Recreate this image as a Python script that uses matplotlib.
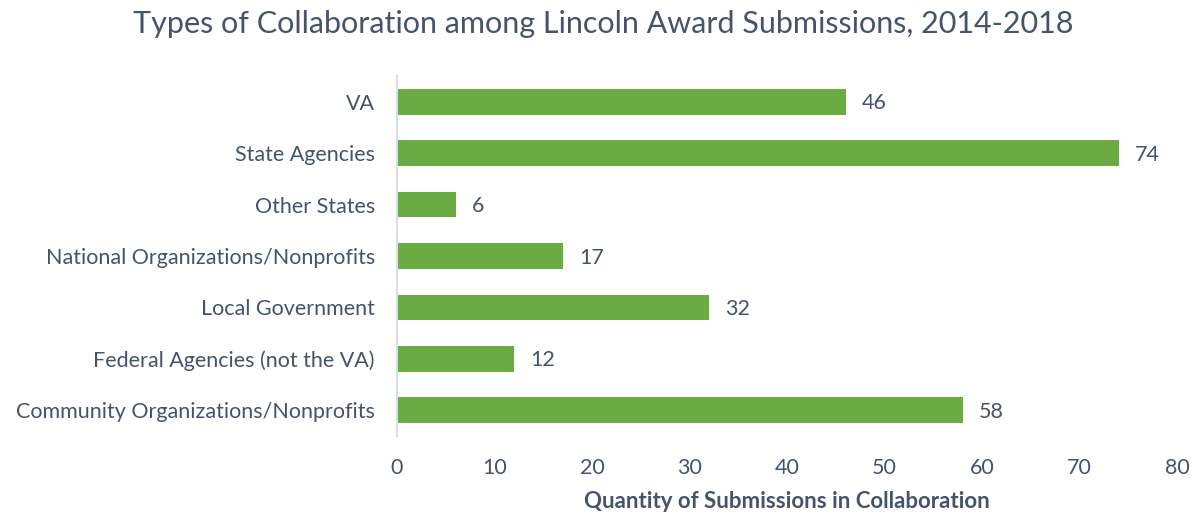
import matplotlib
matplotlib.use("Agg")
import matplotlib.pyplot as plt

categories = [
    "VA",
    "State Agencies",
    "Other States",
    "National Organizations/Nonprofits",
    "Local Government",
    "Federal Agencies (not the VA)",
    "Community Organizations/Nonprofits",
]
counts = [46, 74, 6, 17, 32, 12, 58]
xticks = [0, 10, 20, 30, 40, 50, 60, 70, 80]

text_color = "#44546a"
bar_color = "#6aab43"

plt.rcParams["font.family"] = ["Lato", "DejaVu Sans"]

fig = plt.figure(figsize=(11.94, 5.15), dpi=100)
ax = fig.add_axes([0.3325, 0.1534, 0.6533, 0.699])

y = list(range(len(categories)))
ax.barh(y, counts, height=0.5, color=bar_color)
ax.set_ylim(len(categories) - 0.5, -0.5)
ax.set_xlim(0, 80)

for yi, v in zip(y, counts):
    ax.text(v + 1.7, yi + 0.03, str(v), va="center", ha="left", fontsize=15.5, color=text_color)

ax.set_yticks(y)
ax.set_yticklabels(categories, fontsize=15.5, color=text_color)
ax.set_xticks(xticks)
ax.set_xticklabels([str(t) for t in xticks], fontsize=15.5, color=text_color)
ax.tick_params(axis="both", length=0)
ax.tick_params(axis="y", pad=16)
ax.tick_params(axis="x", pad=16)

for s in ["top", "right", "bottom"]:
    ax.spines[s].set_visible(False)
ax.spines["left"].set_color("#d9dde4")
ax.spines["left"].set_linewidth(1.5)

ax.set_xlabel("Quantity of Submissions in Collaboration", fontsize=16,
              fontweight="bold", color=text_color, labelpad=9)
fig.text(0.505, 0.953, "Types of Collaboration among Lincoln Award Submissions, 2014-2018",
         ha="center", va="center", fontsize=22, color=text_color)

fig.savefig("out.png", dpi=100)
